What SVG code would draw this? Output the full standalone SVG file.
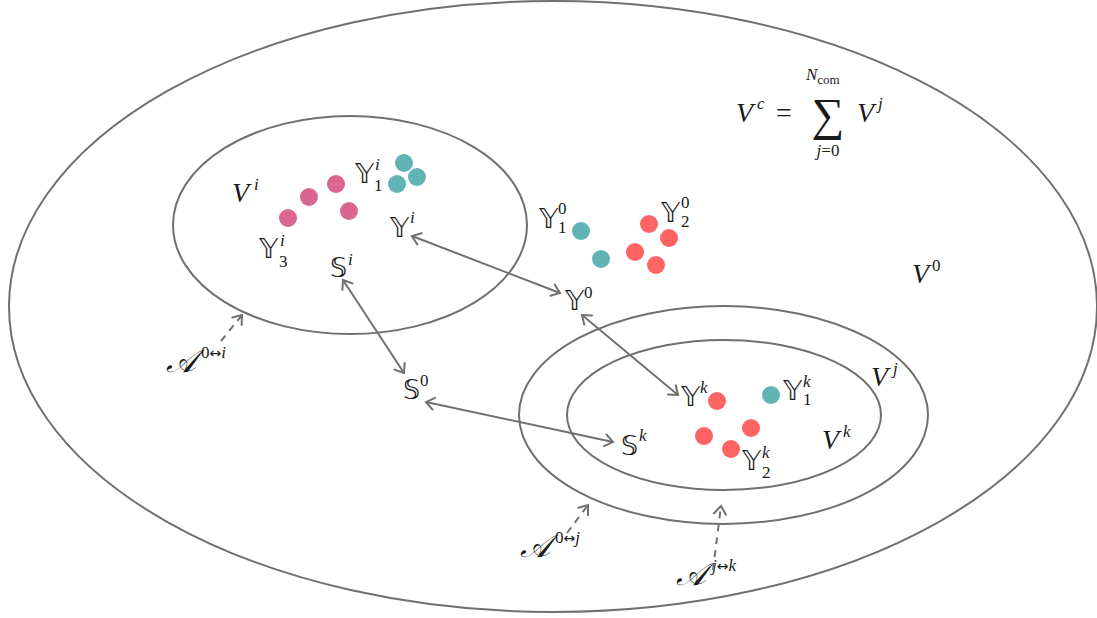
<svg xmlns="http://www.w3.org/2000/svg" width="1097" height="618" viewBox="0 0 1097 618">
<defs>
<style>
.reg{fill:none;stroke:#707070;stroke-width:2}
.con{fill:none;stroke:#707070;stroke-width:2}
.dash{stroke-dasharray:7 6}
.pk{fill:#DA6590}
.tl{fill:#62B3B3}
.rd{fill:#FF6464}
.t{font-family:"Liberation Serif","DejaVu Serif",serif;fill:#1a1a1a}
.it{font-style:italic}
.big{font-size:28px}
.cal{font-size:32px}
.bb{font-family:"DejaVu Sans","Noto Sans",sans-serif;font-size:27px;fill:#1a1a1a}
.sc{font-size:17px}
.ar{font-family:"DejaVu Sans",sans-serif;font-style:normal;font-size:14px}
</style>
<marker id="ah" viewBox="-10 -8 12 16" markerWidth="12" markerHeight="16" refX="0" refY="0" orient="auto-start-reverse" markerUnits="userSpaceOnUse">
<path d="M-8,-6 Q-2,-1.5 0,0 Q-2,1.5 -8,6" fill="none" stroke="#707070" stroke-width="2" stroke-linecap="round"/>
</marker>
</defs>
<rect width="1097" height="618" fill="#ffffff"/>

<g id="V0">
<ellipse class="reg" cx="553" cy="306.5" rx="544" ry="305.5"/>
<text class="t it big" x="912" y="283">V<tspan class="sc" font-style="normal" dx="3" dy="-12">0</tspan></text>
</g>

<g id="formula">
<text class="t it big" x="736" y="122">V<tspan class="sc" dx="4" dy="-13">c</tspan></text>
<text class="t big" x="776" y="122">=</text>
<text class="t" x="828" y="130" font-size="46" text-anchor="middle">∑</text>
<text class="t it" x="806" y="80" font-size="17">N<tspan font-style="normal" font-size="13" dy="4">com</tspan></text>
<text class="t" x="828" y="156" font-size="17" text-anchor="middle"><tspan font-style="italic">j</tspan>=0</text>
<text class="t it big" x="857" y="122">V<tspan class="sc" dx="4" dy="-13">j</tspan></text>
</g>

<g id="Vi">
<ellipse class="reg" cx="350" cy="225" rx="177" ry="109"/>
<text class="t it big" x="232" y="202">V<tspan class="sc" dx="5" dy="-12">i</tspan></text>
</g>

<g id="Yi1">
<circle class="tl" cx="404" cy="163" r="9"/>
<circle class="tl" cx="397" cy="184" r="9"/>
<circle class="tl" cx="417" cy="177" r="9"/>
<text class="bb" x="355" y="183">𝕐</text>
<text class="t it sc" x="375" y="170">i</text>
<text class="t sc" x="374" y="191">1</text>
</g>

<g id="Yi3">
<circle class="pk" cx="288" cy="218" r="9"/>
<circle class="pk" cx="309" cy="197" r="9"/>
<circle class="pk" cx="336" cy="184" r="9"/>
<circle class="pk" cx="349" cy="211" r="9"/>
<text class="bb" x="259" y="258">𝕐</text>
<text class="t it sc" x="280" y="246">i</text>
<text class="t sc" x="279" y="267">3</text>
</g>

<g id="Yi">
<text class="bb" x="390" y="237">𝕐</text>
<text class="t it sc" x="410" y="223">i</text>
</g>

<g id="Si">
<text class="bb" x="330" y="277">𝕊</text>
<text class="t it sc" x="348" y="265">i</text>
</g>

<g id="Y01">
<circle class="tl" cx="581" cy="231" r="9"/>
<circle class="tl" cx="601" cy="259" r="9"/>
<text class="bb" x="539" y="228">𝕐</text>
<text class="t sc" x="558" y="214">0</text>
<text class="t sc" x="558" y="233">1</text>
</g>

<g id="Y02">
<circle class="rd" cx="649" cy="224" r="9"/>
<circle class="rd" cx="669" cy="238" r="9"/>
<circle class="rd" cx="635" cy="252" r="9"/>
<circle class="rd" cx="656" cy="265" r="9"/>
<text class="bb" x="661" y="222">𝕐</text>
<text class="t sc" x="681" y="208">0</text>
<text class="t sc" x="681" y="227">2</text>
</g>

<g id="Y0">
<text class="bb" x="565" y="310">𝕐</text>
<text class="t sc" x="584" y="298">0</text>
</g>

<g id="S0">
<text class="bb" x="403" y="399">𝕊</text>
<text class="t sc" x="420" y="386">0</text>
</g>

<g id="Vj">
<ellipse class="reg" cx="723.5" cy="415" rx="204.5" ry="109"/>
<text class="t it big" x="871" y="386">V<tspan class="sc" dx="5" dy="-12">j</tspan></text>
</g>

<g id="Vk">
<ellipse class="reg" cx="724" cy="415" rx="157" ry="75"/>
<text class="t it big" x="822" y="449">V<tspan class="sc" dx="4" dy="-12">k</tspan></text>
</g>

<g id="Yk">
<text class="bb" x="681" y="406">𝕐</text>
<text class="t it sc" x="700" y="393">k</text>
</g>

<g id="Yk1">
<circle class="tl" cx="771" cy="395" r="9"/>
<text class="bb" x="783" y="400">𝕐</text>
<text class="t it sc" x="803" y="387">k</text>
<text class="t sc" x="803" y="405">1</text>
</g>

<g id="Yk2">
<circle class="rd" cx="717" cy="401" r="9"/>
<circle class="rd" cx="704" cy="436" r="9"/>
<circle class="rd" cx="731" cy="449" r="9"/>
<circle class="rd" cx="751" cy="428" r="9"/>
<text class="bb" x="742" y="470">𝕐</text>
<text class="t it sc" x="762" y="458">k</text>
<text class="t sc" x="762" y="478">2</text>
</g>

<g id="Sk">
<text class="bb" x="621" y="455">𝕊</text>
<text class="t it sc" x="639" y="441">k</text>
</g>

<g id="A0i">
<text class="t it cal" x="166" y="372">𝒜<tspan class="sc" font-style="normal" dx="5" dy="-14">0<tspan class="ar">↔</tspan><tspan font-style="italic">i</tspan></tspan></text>
</g>
<g id="A0j">
<text class="t it cal" x="520" y="557">𝒜<tspan class="sc" font-style="normal" dx="5" dy="-14">0<tspan class="ar">↔</tspan><tspan font-style="italic">j</tspan></tspan></text>
</g>
<g id="Ajk">
<text class="t it cal" x="676" y="585">𝒜<tspan class="sc" dx="6" dy="-14">j<tspan class="ar">↔</tspan>k</tspan></text>
</g>

<g id="connectors">
<line class="con" x1="412" y1="236" x2="560" y2="293" marker-start="url(#ah)" marker-end="url(#ah)"/>
<line class="con" x1="343" y1="280" x2="404" y2="373" marker-start="url(#ah)" marker-end="url(#ah)"/>
<line class="con" x1="582" y1="315" x2="678" y2="395" marker-start="url(#ah)" marker-end="url(#ah)"/>
<line class="con" x1="426" y1="402" x2="613" y2="442" marker-start="url(#ah)" marker-end="url(#ah)"/>
<line class="con dash" x1="221" y1="341" x2="242" y2="315" marker-end="url(#ah)"/>
<line class="con dash" x1="567" y1="533" x2="588" y2="505" marker-end="url(#ah)"/>
<line class="con dash" x1="713" y1="570" x2="721" y2="506" marker-end="url(#ah)"/>
</g>
</svg>
